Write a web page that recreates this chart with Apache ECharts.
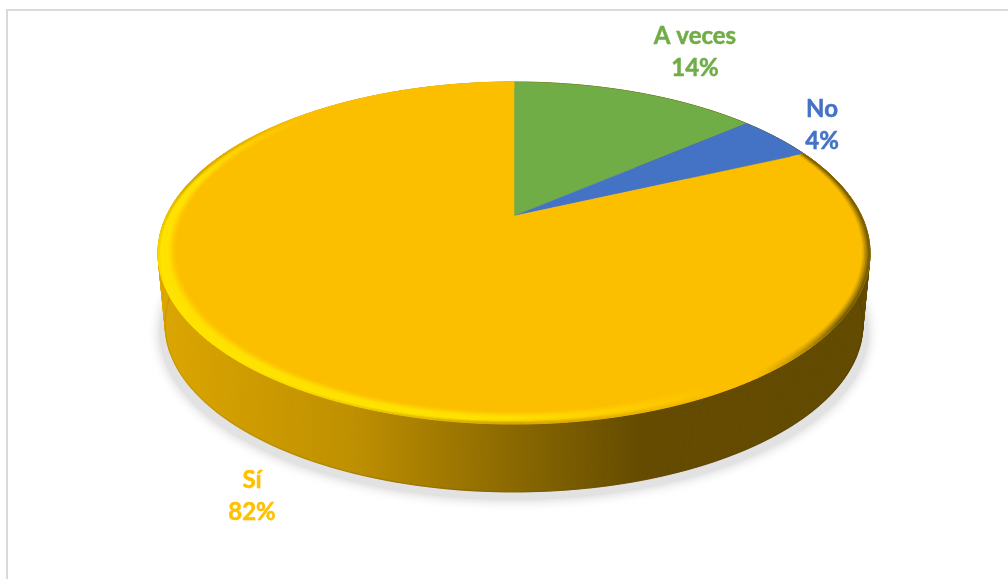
<!DOCTYPE html>
<html>
<head>
<meta charset="utf-8">
<style>html,body{margin:0;padding:0;background:#fff}#c{width:1008px;height:579px}</style>
<script src="https://cdn.jsdelivr.net/npm/echarts@6/dist/echarts.min.js"></script>
</head>
<body>
<div id="c"></div>
<script>
const categories = ['A veces', 'No', 'Sí'];
const values = [13.8, 4.4, 81.8];
const colors = ['#70AD47', '#4472C4', '#FCBF00'];
const labelColors = ['#70AD47', '#4472C4', '#FFC000'];

// Layout of the tilted disc
const cx = 514, topY = 216, bx = 347.6, by = 163, persp = -0.2164;
const baseScale = 0.98, baseY = 288;
const labelSpots = [[695, 52.5], [822, 125.5], [252, 496]];

const total = values.reduce((a, b) => a + b, 0);
const starts = [];
values.reduce((acc, v, i) => { starts[i] = acc; return acc + v; }, 0);

function proj(theta, r, scale, y0) {
  const u = r * Math.sin(theta), v = -r * Math.cos(theta);
  const d = 1 + persp * v;
  return [cx + scale * bx * u / d, y0 + scale * by * v / d];
}
const rimTop = (t, r) => proj(t, r === undefined ? 1 : r, 1, topY);
const rimBase = t => proj(t, 1, baseScale, baseY);
function sliceRange(i, val) {
  const a0 = starts[i] / total * Math.PI * 2;
  return [a0, a0 + val / total * Math.PI * 2];
}
function samples(a0, a1, step) {
  const n = Math.max(2, Math.ceil((a1 - a0) / step));
  const out = [];
  for (let k = 0; k <= n; k++) out.push(a0 + (a1 - a0) * k / n);
  return out;
}
const clamp01 = x => Math.max(0, Math.min(1, x));
function mixArr(c1, c2, t) {
  t = clamp01(t);
  return c1.map((c, i) => Math.round(c + (c2[i] - c) * t));
}
const css = c => 'rgb(' + c.join(',') + ')';
const wallFill = new echarts.graphic.LinearGradient(160, 0, 866, 0, [
  { offset: 0, color: '#DCA600' },
  { offset: 0.27, color: '#BF9000' },
  { offset: 0.48, color: '#8F6C00' },
  { offset: 0.68, color: '#644B00' },
  { offset: 1, color: '#624A00' }
], true);
const wallEdge = new echarts.graphic.LinearGradient(160, 0, 866, 0, [
  { offset: 0, color: '#B88A00' },
  { offset: 0.5, color: '#6E5300' },
  { offset: 1, color: '#4F3B00' }
], true);

function renderShadow(params, api) {
  const [a0, a1] = sliceRange(params.dataIndex, api.value(0));
  const pts = samples(a0, a1, 0.02).map(t => {
    const p = rimBase(t);
    return [cx + (p[0] - cx) * 1.016, p[1] + 8];
  });
  pts.push([cx, baseY + 8]);
  return { type: 'polygon', shape: { points: pts },
    style: { fill: '#E2E2E2', shadowBlur: 12, shadowColor: 'rgba(0,0,0,0.2)' } };
}
function renderWall(params, api) {
  const [a0, a1] = sliceRange(params.dataIndex, api.value(0));
  const ts = samples(a0, a1, 0.02);
  const children = [];
  for (let k = 0; k < ts.length - 1; k++) {
    children.push({ type: 'polygon', shape: { points: [rimTop(ts[k]), rimTop(ts[k + 1]), rimBase(ts[k + 1]), rimBase(ts[k])] },
      style: { fill: wallFill, stroke: wallFill, lineWidth: 1 } });
  }
  children.push({ type: 'polyline', shape: { points: ts.map(rimBase) },
    style: { fill: null, stroke: wallEdge, lineWidth: 1.4, opacity: 0.45 } });
  return { type: 'group', children };
}
function renderTop(params, api) {
  const i = params.dataIndex;
  const [a0, a1] = sliceRange(i, api.value(0));
  const pts = [[cx, topY]].concat(samples(a0, a1, 0.01).map(t => rimTop(t)));
  return { type: 'polygon', shape: { points: pts }, style: { fill: colors[i], stroke: colors[i], lineWidth: 0.5 } };
}
function renderBevel(params, api) {
  const i = params.dataIndex;
  if (i !== 2) return { type: 'group', children: [] };
  const [a0, a1] = sliceRange(i, api.value(0));
  const ts = samples(a0, a1, 0.022);
  const rings = 10, rIn = 0.95;
  const base = [252, 191, 0], bright = [255, 228, 0], dim = [104, 80, 0], rimLit = [200, 150, 0];
  const children = [];
  for (let rg = rings - 1; rg >= 0; rg--) {
    const r1 = 1 - (1 - rIn) * rg / rings, r2 = 1 - (1 - rIn) * (rg + 1) / rings;
    const t = (rg + 0.5) / rings;
    for (let k = 0; k < ts.length - 1; k++) {
      const m = (ts[k] + ts[k + 1]) / 2;
      const d = -0.8 * Math.sin(m) - 0.6 * Math.cos(m);
      const lit = clamp01((d - 0.15) / 0.5);
      const shade = clamp01(-d / 0.35 + 0.1) * clamp01(Math.sin(m) * 3);
      let col;
      if (lit === 0) {
        col = mixArr(base, dim, shade * Math.max(0, 1 - t * 2.4));
      } else {
        const x = t < 0.42 ? t / 0.42 : (1 - t) / 0.58;
        const prof = x * x * (3 - 2 * x);
        const edge = mixArr(rimLit, bright, clamp01(t / 0.3 + Math.max(0, d - 0.6) * 2.2));
        col = t < 0.3 ? mixArr(base, edge, lit) : mixArr(base, bright, lit * prof);
      }
      children.push({ type: 'polygon',
        shape: { points: [rimTop(ts[k], r1), rimTop(ts[k + 1], r1), rimTop(ts[k + 1], r2), rimTop(ts[k], r2)] },
        style: { fill: css(col), stroke: css(col), lineWidth: 0.7 } });
    }
  }
  return { type: 'group', children };
}
function renderLabel(params, api) {
  const i = params.dataIndex;
  return { type: 'text', x: labelSpots[i][0], y: labelSpots[i][1],
    style: { text: categories[i] + '\n' + Math.round(api.value(0)) + '%', fill: labelColors[i],
      stroke: labelColors[i], lineWidth: 0.5,
      font: 'bold 24px Lato, sans-serif', lineHeight: 32, align: 'center', verticalAlign: 'middle' } };
}
const data = values.map((v, i) => ({ name: categories[i], value: v }));
const layer = (renderItem, z) => ({ type: 'custom', coordinateSystem: 'none', renderItem, data, z, silent: true, animation: false, clip: false });

const chart = echarts.init(document.getElementById('c'), null, { renderer: 'canvas' });
chart.setOption({
  backgroundColor: '#fff',
  animation: false,
  tooltip: { show: false },
  graphic: [{ type: 'rect', z: 0, shape: { x: 7, y: 10, width: 1100, height: 700 }, style: { fill: null, stroke: '#D9D9D9', lineWidth: 2 } }],
  series: [layer(renderShadow, 1), layer(renderWall, 2), layer(renderTop, 3), layer(renderBevel, 4), layer(renderLabel, 5)]
});
</script>
</body>
</html>
